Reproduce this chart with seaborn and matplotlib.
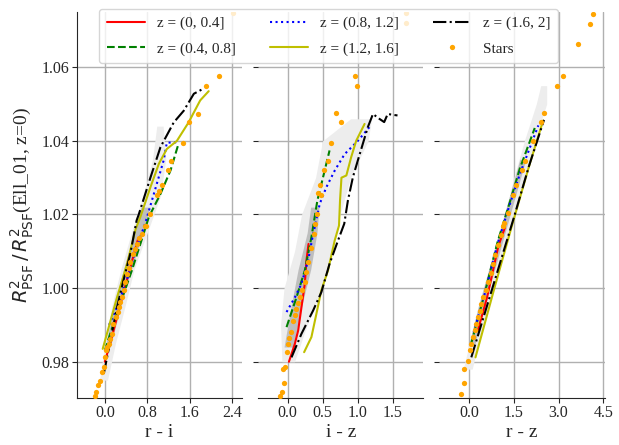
import numpy as np
import pandas as pd
import seaborn as sns
import matplotlib
matplotlib.use("Agg")
import matplotlib.pyplot as plt

## colour-dependence of PSF size ratio, three colour panels

z_labels = ["z = (0, 0.4]", "z = (0.4, 0.8]", "z = (0.8, 1.2]", "z = (1.2, 1.6]", "z = (1.6, 2]"]
z_colors = ["red", "green", "blue", "y", "black"]
z_styles = ["-", "--", ":", "-", "-."]

colour_names = ["r - i", "i - z", "r - z"]
xlims = [(-0.53, 2.59), (-0.42, 1.94), (-1.0, 4.55)]
xticks = [[0.0, 0.8, 1.6, 2.4], [0.0, 0.5, 1.0, 1.5], [0.0, 1.5, 3.0, 4.5]]
yticks = [0.98, 1.00, 1.02, 1.04, 1.06]

# ---- panel 1 : r - i
ri_red_x = [0.0, 0.12, 0.28, 0.45, 0.63]
ri_red_y = [0.980, 0.986, 0.995, 1.004, 1.0135]
ri_green_x = [0.0, 0.04, 0.29, 0.51, 0.73, 0.83, 1.05, 1.24, 1.39]
ri_green_y = [0.983, 0.9849, 0.9958, 1.0048, 1.0147, 1.0193, 1.0256, 1.032, 1.0392]
ri_blue_x = [0.08, 0.25, 0.42, 0.60, 0.76, 0.98, 1.11, 1.17, 1.36]
ri_blue_y = [0.990, 0.9955, 1.0025, 1.0111, 1.0175, 1.0283, 1.0347, 1.0395, 1.0396]
ri_yellow_x = [-0.04, 0.23, 0.42, 0.58, 0.67, 0.86, 1.02, 1.17, 1.36, 1.58, 1.80, 1.96]
ri_yellow_y = [0.9835, 0.9975, 1.0066, 1.016, 1.0193, 1.0274, 1.0338, 1.0378, 1.040, 1.045, 1.051, 1.0535]
ri_black_x = [-0.02, 0.23, 0.35, 0.48, 0.60, 0.64, 0.86, 1.05, 1.30, 1.49, 1.68, 1.85]
ri_black_y = [0.9767, 0.9948, 1.002, 1.0093, 1.0184, 1.020, 1.030, 1.0383, 1.045, 1.0482, 1.0528, 1.0541]
ri_star_x = [-0.18, -0.165, -0.12, -0.10, -0.057, -0.025, 0.006, 0.025, 0.05, 0.07, 0.10, 0.13, 0.16, 0.21,
             0.24, 0.26, 0.29, 0.32, 0.36, 0.385, 0.416, 0.45, 0.48, 0.54, 0.57, 0.605, 0.65, 0.70, 0.762,
             0.78, 0.856, 0.98, 1.015, 1.08, 1.20, 1.25, 1.47, 1.58, 1.75, 1.90, 2.15, 2.41]
ri_star_y = [0.9708, 0.9718, 0.9736, 0.9749, 0.9772, 0.9785, 0.9812, 0.9831, 0.9840, 0.9849, 0.9862, 0.9876,
             0.9903, 0.9921, 0.9935, 0.9948, 0.9962, 0.9975, 0.9995, 1.0016, 1.0039, 1.0055, 1.0070, 1.0093,
             1.0105, 1.0120, 1.0135, 1.0148, 1.0170, 1.0170, 1.0202, 1.0252, 1.0265, 1.0281, 1.0321, 1.0345,
             1.0395, 1.0450, 1.0473, 1.0550, 1.0577, 1.0747]
ri_cloud_y = [0.975, 0.985, 0.995, 1.005, 1.015, 1.025, 1.035, 1.044]
ri_cloud_lo = [-0.10, 0.0, 0.13, 0.30, 0.50, 0.72, 0.90, 0.98]
ri_cloud_hi = [0.05, 0.20, 0.38, 0.55, 0.80, 1.05, 1.15, 1.10]
ri_core_y = [0.985, 0.995, 1.005, 1.015, 1.022]
ri_core_lo = [0.02, 0.17, 0.35, 0.55, 0.68]
ri_core_hi = [0.12, 0.30, 0.50, 0.72, 0.85]

# ---- panel 2 : i - z
iz_red_x = [0.02, 0.105, 0.152, 0.199, 0.247, 0.27, 0.30]
iz_red_y = [0.980, 0.9849, 0.9885, 0.9948, 1.0012, 1.0075, 1.012]
iz_green_x = [-0.014, 0.128, 0.247, 0.341, 0.365, 0.426, 0.507, 0.60]
iz_green_y = [0.9894, 0.9975, 1.0048, 1.0138, 1.0166, 1.0238, 1.0301, 1.0374]
iz_blue_x = [-0.014, 0.105, 0.199, 0.294, 0.365, 0.389, 0.46, 0.554, 0.673, 0.815, 1.004, 1.19]
iz_blue_y = [0.9935, 0.9975, 1.0012, 1.0075, 1.0147, 1.0166, 1.0229, 1.0274, 1.0319, 1.0364, 1.040, 1.0442]
iz_yellow_x = [0.237, 0.341, 0.412, 0.483, 0.578, 0.673, 0.735, 0.75, 0.77, 0.84, 0.909, 0.98, 1.10]
iz_yellow_y = [0.9826, 0.9867, 0.9930, 0.9994, 1.0048, 1.0129, 1.0170, 1.024, 1.030, 1.0306, 1.0356, 1.040, 1.0446]
iz_black_x = [0.057, 0.199, 0.365, 0.483, 0.60, 0.72, 0.81, 0.862, 0.933, 1.004, 1.075, 1.146, 1.22, 1.31, 1.38, 1.43, 1.57]
iz_black_y = [0.9812, 0.9876, 0.9939, 0.9989, 1.0066, 1.0129, 1.0175, 1.0238, 1.0301, 1.0347, 1.0392, 1.0437,
              1.0473, 1.046, 1.0451, 1.0473, 1.0469]
iz_star_x = [-0.108, -0.085, -0.047, -0.061, -0.037, -0.014, 0.0, 0.02, 0.048, 0.081, 0.10, 0.128, 0.15, 0.176,
             0.21, 0.247, 0.27, 0.294, 0.33, 0.379, 0.389, 0.426, 0.474, 0.436, 0.469, 0.517, 0.578, 0.616,
             0.767, 0.696, 0.995, 0.957, 1.69, 1.69]
iz_star_y = [0.9708, 0.9718, 0.9741, 0.9781, 0.9785, 0.9826, 0.9849, 0.9865, 0.9881, 0.9912, 0.9928, 0.9944,
             0.9960, 0.9975, 0.9995, 1.0016, 1.0045, 1.0070, 1.0110, 1.0148, 1.0175, 1.0202, 1.0252, 1.0258,
             1.0281, 1.0321, 1.0345, 1.0395, 1.0451, 1.0475, 1.0550, 1.0577, 1.0719, 1.0747]
iz_cloud_y = [0.980, 0.990, 1.000, 1.010, 1.020, 1.030, 1.040, 1.046]
iz_cloud_lo = [-0.08, -0.10, -0.05, 0.10, 0.20, 0.40, 0.50, 0.90]
iz_cloud_hi = [0.10, 0.28, 0.50, 0.62, 0.75, 0.90, 1.15, 1.20]
iz_core_y = [0.984, 0.995, 1.005, 1.015, 1.022]
iz_core_lo = [-0.05, 0.05, 0.15, 0.28, 0.33]
iz_core_hi = [0.08, 0.20, 0.33, 0.42, 0.45]

# ---- panel 3 : r - z
rz_red_x = [0.29, 0.60, 0.98, 1.20]
rz_red_y = [0.9885, 0.9975, 1.0115, 1.0165]
rz_green_x = [0.05, 0.50, 0.95, 1.35, 1.70, 2.20]
rz_green_y = [0.9845, 0.998, 1.0125, 1.023, 1.0325, 1.0435]
rz_blue_x = [0.15, 0.52, 0.95, 1.35, 1.70, 2.32]
rz_blue_y = [0.988, 0.9985, 1.012, 1.0225, 1.031, 1.0442]
rz_yellow_x = [0.21, 0.855, 1.42, 2.04, 2.48]
rz_yellow_y = [0.9812, 1.0003, 1.0166, 1.034, 1.0455]
rz_black_x = [0.07, 0.77, 1.47, 2.00, 2.51]
rz_black_y = [0.9812, 0.9998, 1.0184, 1.033, 1.0457]
rz_star_x = [-0.27, -0.19, -0.16, -0.047, 0.01, 0.06, 0.12, 0.18, 0.236, 0.29, 0.35, 0.40, 0.46, 0.55, 0.63,
             0.72, 0.80, 0.88, 0.966, 1.05, 1.135, 1.16, 1.30, 1.47, 1.56, 1.76, 1.87, 2.15, 2.40, 2.51,
             2.94, 3.16, 3.65, 4.04, 4.16]
rz_star_y = [0.9713, 0.9741, 0.9781, 0.9803, 0.9831, 0.9849, 0.9867, 0.9885, 0.9903, 0.9921, 0.9939, 0.9957,
             0.9975, 0.9995, 1.0016, 1.0041, 1.0066, 1.0091, 1.0116, 1.0143, 1.0170, 1.0176, 1.0204, 1.0254,
             1.0279, 1.0321, 1.0345, 1.0400, 1.0451, 1.0475, 1.0550, 1.0577, 1.0664, 1.0718, 1.0745]
rz_cloud_y = [0.978, 0.990, 1.000, 1.010, 1.020, 1.030, 1.040, 1.050, 1.055]
rz_cloud_lo = [-0.20, 0.15, 0.50, 0.85, 1.20, 1.50, 1.85, 2.25, 2.40]
rz_cloud_hi = [0.10, 0.45, 0.80, 1.15, 1.50, 1.85, 2.20, 2.60, 2.60]
rz_core_y = [0.985, 0.995, 1.005, 1.015, 1.025, 1.035]
rz_core_lo = [0.00, 0.30, 0.65, 1.00, 1.35, 1.70]
rz_core_hi = [0.20, 0.50, 0.85, 1.20, 1.55, 1.90]

panels = [
    dict(lines=[(ri_red_x, ri_red_y), (ri_green_x, ri_green_y), (ri_blue_x, ri_blue_y),
                (ri_yellow_x, ri_yellow_y), (ri_black_x, ri_black_y)],
         stars=(ri_star_x, ri_star_y),
         cloud=(ri_cloud_y, ri_cloud_lo, ri_cloud_hi), core=(ri_core_y, ri_core_lo, ri_core_hi)),
    dict(lines=[(iz_red_x, iz_red_y), (iz_green_x, iz_green_y), (iz_blue_x, iz_blue_y),
                (iz_yellow_x, iz_yellow_y), (iz_black_x, iz_black_y)],
         stars=(iz_star_x, iz_star_y),
         cloud=(iz_cloud_y, iz_cloud_lo, iz_cloud_hi), core=(iz_core_y, iz_core_lo, iz_core_hi)),
    dict(lines=[(rz_red_x, rz_red_y), (rz_green_x, rz_green_y), (rz_blue_x, rz_blue_y),
                (rz_yellow_x, rz_yellow_y), (rz_black_x, rz_black_y)],
         stars=(rz_star_x, rz_star_y),
         cloud=(rz_cloud_y, rz_cloud_lo, rz_cloud_hi), core=(rz_core_y, rz_core_lo, rz_core_hi)),
]

sns.set_style("ticks")
plt.rcParams["font.family"] = ["Liberation Serif", "DejaVu Serif"]
plt.rcParams["mathtext.fontset"] = "dejavusans"

fig, axes = plt.subplots(1, 3, figsize=(6.19, 4.45), dpi=100, sharey=True)
fig.subplots_adjust(left=0.124, right=0.977, bottom=0.106, top=0.973, wspace=0.097)

for i, ax in enumerate(axes):
    p = panels[i]
    cy, clo, chi = p["cloud"]
    ax.fill_betweenx(cy, clo, chi, color="0.93", lw=0, zorder=1)
    ky, klo, khi = p["core"]
    ax.fill_betweenx(ky, klo, khi, color="0.6", alpha=0.55, lw=0, zorder=1)

    for j, (lx, ly) in enumerate(p["lines"]):
        df = pd.DataFrame({"x": lx, "y": ly})
        sns.lineplot(data=df, x="x", y="y", ax=ax, sort=False, estimator=None,
                     color=z_colors[j], linestyle=z_styles[j], lw=1.5,
                     label=z_labels[j], legend=False, zorder=3)

    sx, sy = p["stars"]
    ax.plot(sx, sy, "o", color="orange", ms=3.8, mec="none", zorder=4, label="Stars")

    ax.set_xlim(*xlims[i])
    ax.set_xticks(xticks[i])
    ax.set_xticklabels([f"{t:.1f}" for t in xticks[i]])
    ax.set_xlabel(colour_names[i], fontsize=14, labelpad=2)
    ax.set_ylabel("")
    ax.grid(True, color="#b0b0b0", lw=1.0, zorder=0)
    ax.set_axisbelow(True)
    ax.tick_params(labelsize=11.5, pad=2)
    sns.despine(ax=ax, left=(i > 0))

axes[0].set_ylim(0.9702, 1.0750)
axes[0].set_yticks(yticks)
axes[0].set_yticklabels([f"{t:.2f}" for t in yticks])
axes[0].set_ylabel(r"$R^2_{\rm PSF}\,/\,R^2_{\rm PSF}$(Ell_01, z=0)", fontsize=14)

handles, labels = axes[0].get_legend_handles_labels()
fig.legend(handles, labels, loc="upper center", bbox_to_anchor=(0.531, 0.997), ncol=3,
           fontsize=11, handlelength=2.5, columnspacing=2.2, labelspacing=0.75,
           borderpad=0.5, framealpha=0.8)

fig.savefig("out.png", dpi=100)
